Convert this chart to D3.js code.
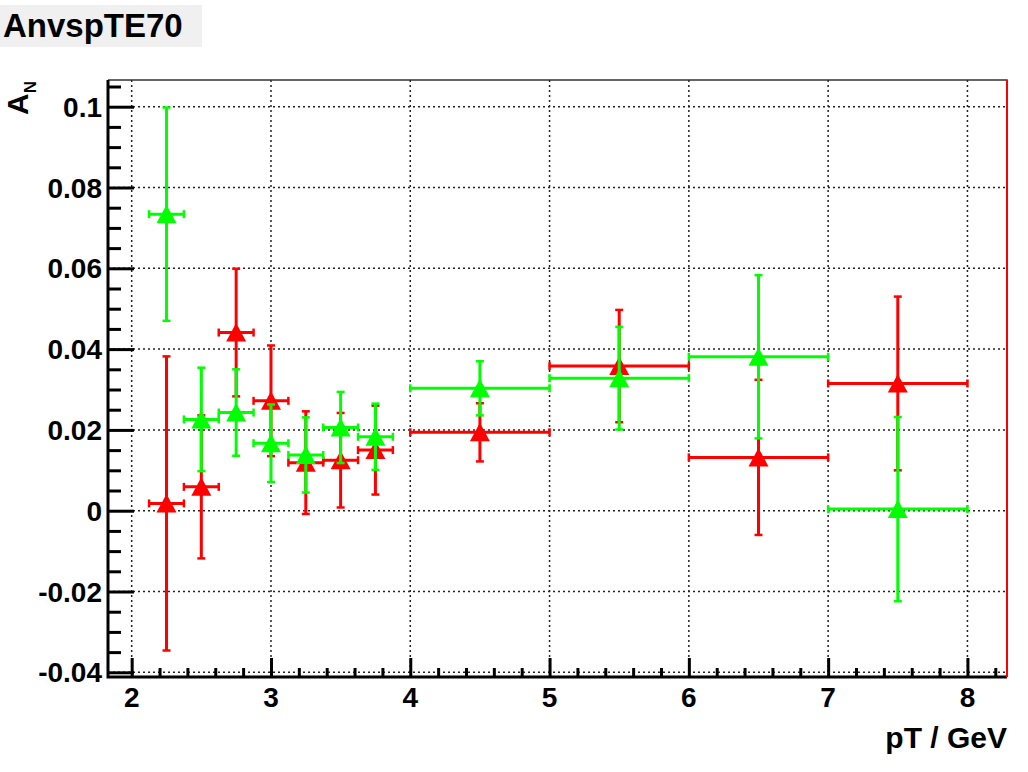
<!DOCTYPE html>
<html>
<head>
<meta charset="utf-8">
<script src="https://cdn.jsdelivr.net/npm/d3@7"></script>
<style>
	body { margin: 0; background: #fff; }
	svg { display: block; font-family: "Liberation Sans", Arial, Helvetica, sans-serif; font-weight: bold; }
</style>
</head>
<body>
<svg id="chart" width="1028" height="772"></svg>
<script>
	// bin centres and half widths (pT / GeV)
	const ptCenters = [ 2.25, 2.5, 2.75, 3.0, 3.25, 3.5, 3.75, 4.5, 5.5, 6.5, 7.5 ];
	const ptHalfWidths = [ 0.125, 0.125, 0.125, 0.125, 0.125, 0.125, 0.125, 0.5, 0.5, 0.5, 0.5 ];

	// red series
	const redValues = [ 0.0018, 0.0059, 0.0441, 0.0272, 0.0119, 0.0125, 0.0150, 0.0194, 0.0358, 0.0132, 0.0315 ];
	const redErrors = [ 0.0364, 0.0177, 0.0158, 0.0137, 0.0127, 0.0117, 0.0110, 0.0072, 0.0139, 0.0192, 0.0215 ];

	// green series
	const greenValues = [ 0.0734, 0.0226, 0.0243, 0.0167, 0.0138, 0.0206, 0.0183, 0.0303, 0.0328, 0.0381, 0.0004 ];
	const greenErrors = [ 0.0264, 0.0128, 0.0107, 0.0096, 0.0093, 0.0088, 0.0082, 0.0067, 0.0127, 0.0202, 0.0228 ];

	const xTickValues = [ 2, 3, 4, 5, 6, 7, 8 ];
	const yTickValues = [ -0.04, -0.02, 0, 0.02, 0.04, 0.06, 0.08, 0.1 ];
	const yTickLabels = [ '-0.04', '-0.02', '0', '0.02', '0.04', '0.06', '0.08', '0.1' ];

	const frame = { left: 108, right: 1007, top: 80, bottom: 677 };

	let svg = d3.select( '#chart' );

	let x = d3.scaleLinear().domain( [ 1.830, 8.284 ] ).range( [ frame.left, frame.right ] ),
		y = d3.scaleLinear().domain( [ -0.04116, 0.10661 ] ).range( [ frame.bottom, frame.top ] );

	// title box
	svg.append( 'rect' )
		.attr( 'x', 0 ).attr( 'y', 5 )
		.attr( 'width', 202 ).attr( 'height', 42 )
		.style( 'fill', '#f0f0f0' );
	svg.append( 'text' )
		.attr( 'x', 3 ).attr( 'y', 37 )
		.style( 'font-size', '33px' )
		.text( 'AnvspTE70' );

	// grid
	let grid = svg.append( 'g' ).attr( 'id', 'grid' )
		.style( 'stroke', '#222' )
		.style( 'stroke-width', 1.5 )
		.style( 'stroke-dasharray', '2,3' );

	grid.selectAll( 'line.gx' ).data( xTickValues )
		.enter().append( 'line' ).attr( 'class', 'gx' )
		.attr( 'x1', d => x( d ) ).attr( 'x2', d => x( d ) )
		.attr( 'y1', frame.top ).attr( 'y2', frame.bottom );

	grid.selectAll( 'line.gy' ).data( yTickValues )
		.enter().append( 'line' ).attr( 'class', 'gy' )
		.attr( 'x1', frame.left ).attr( 'x2', frame.right )
		.attr( 'y1', d => y( d ) ).attr( 'y2', d => y( d ) );

	// top / right frame
	svg.append( 'path' )
		.attr( 'd', 'M' + frame.left + ',' + frame.top + 'H' + frame.right + 'V' + frame.bottom )
		.style( 'fill', 'none' ).style( 'stroke', '#333' ).style( 'stroke-width', 1.5 );

	// axes
	let yMinor = d3.range( -0.04, 0.1051, 0.005 ).filter( v => Math.abs( Math.round( v / 0.02 ) * 0.02 - v ) > 1e-6 );
	let xMinor = d3.range( 2, 8.3, 0.2 ).filter( v => Math.abs( Math.round( v ) - v ) > 1e-6 );

	let axisY = d3.axisRight( y ).tickValues( yTickValues ).tickSize( 26 ).tickFormat( '' );
	let axisYMinor = d3.axisRight( y ).tickValues( yMinor ).tickSize( 13 ).tickFormat( '' );
	let axisX = d3.axisTop( x ).tickValues( xTickValues ).tickSize( 19 ).tickFormat( '' );
	let axisXMinor = d3.axisTop( x ).tickValues( xMinor ).tickSize( 9 ).tickFormat( '' );

	[ axisY, axisYMinor ].forEach( a => {
		svg.append( 'g' ).attr( 'transform', 'translate(' + frame.left + ',0)' ).call( a )
			.call( g => g.select( '.domain' ).remove() )
			.selectAll( 'line' ).style( 'stroke', '#000' ).style( 'stroke-width', 3 );
	} );
	[ axisX, axisXMinor ].forEach( a => {
		svg.append( 'g' ).attr( 'transform', 'translate(0,' + frame.bottom + ')' ).call( a )
			.call( g => g.select( '.domain' ).remove() )
			.selectAll( 'line' ).style( 'stroke', '#000' ).style( 'stroke-width', 3 );
	} );

	svg.append( 'path' )
		.attr( 'd', 'M' + frame.left + ',' + frame.top + 'V' + frame.bottom + 'H' + frame.right )
		.style( 'fill', 'none' ).style( 'stroke', '#000' ).style( 'stroke-width', 3 );

	// right red edge
	svg.append( 'line' )
		.attr( 'x1', frame.right ).attr( 'x2', frame.right )
		.attr( 'y1', frame.top ).attr( 'y2', frame.bottom )
		.style( 'stroke', '#ff0000' ).style( 'stroke-width', 2 );

	// tick labels
	svg.append( 'g' ).selectAll( 'text' ).data( yTickValues )
		.enter().append( 'text' )
		.attr( 'x', 102 )
		.attr( 'y', d => y( d ) + 10 )
		.attr( 'text-anchor', 'end' )
		.style( 'font-size', '28px' )
		.text( ( d, i ) => yTickLabels[ i ] );

	svg.append( 'g' ).selectAll( 'text' ).data( xTickValues )
		.enter().append( 'text' )
		.attr( 'x', d => x( d ) )
		.attr( 'y', 707 )
		.attr( 'text-anchor', 'middle' )
		.style( 'font-size', '28px' )
		.text( d => d );

	// axis titles
	svg.append( 'text' )
		.attr( 'x', frame.right ).attr( 'y', 748 )
		.attr( 'text-anchor', 'end' )
		.style( 'font-size', '30px' )
		.text( 'pT / GeV' );

	let yTitle = svg.append( 'text' )
		.attr( 'transform', 'translate(28,81) rotate(-90)' )
		.attr( 'text-anchor', 'end' )
		.style( 'font-size', '30px' );
	yTitle.append( 'tspan' ).text( 'A' );
	yTitle.append( 'tspan' ).attr( 'dy', 8 ).style( 'font-size', '17px' ).text( 'N' );

	// data series
	function drawSeries( values, errors, color ) {
		let g = svg.append( 'g' ).style( 'stroke', color ).style( 'fill', color );
		let pts = ptCenters.map( ( c, i ) => ( { x: c, xe: ptHalfWidths[ i ], y: values[ i ], ye: errors[ i ] } ) );

		pts.forEach( p => {
			let cx = x( p.x ), cy = y( p.y ),
				x0 = x( p.x - p.xe ), x1 = x( p.x + p.xe ),
				y0 = y( p.y - p.ye ), y1 = y( p.y + p.ye );

			g.append( 'line' ).attr( 'x1', x0 ).attr( 'x2', x1 ).attr( 'y1', cy ).attr( 'y2', cy ).style( 'stroke-width', 3 );
			g.append( 'line' ).attr( 'x1', cx ).attr( 'x2', cx ).attr( 'y1', y0 ).attr( 'y2', y1 ).style( 'stroke-width', 3 );
			// end caps
			g.append( 'line' ).attr( 'x1', x0 ).attr( 'x2', x0 ).attr( 'y1', cy - 4 ).attr( 'y2', cy + 4 ).style( 'stroke-width', 2.5 );
			g.append( 'line' ).attr( 'x1', x1 ).attr( 'x2', x1 ).attr( 'y1', cy - 4 ).attr( 'y2', cy + 4 ).style( 'stroke-width', 2.5 );
			g.append( 'line' ).attr( 'x1', cx - 4 ).attr( 'x2', cx + 4 ).attr( 'y1', y0 ).attr( 'y2', y0 ).style( 'stroke-width', 2.5 );
			g.append( 'line' ).attr( 'x1', cx - 4 ).attr( 'x2', cx + 4 ).attr( 'y1', y1 ).attr( 'y2', y1 ).style( 'stroke-width', 2.5 );
			// triangle marker
			g.append( 'path' )
				.attr( 'd', 'M' + cx + ',' + ( cy - 9.5 ) + 'L' + ( cx + 10 ) + ',' + ( cy + 9 ) + 'L' + ( cx - 10 ) + ',' + ( cy + 9 ) + 'Z' )
				.style( 'stroke', 'none' );
		} );
	}

	drawSeries( redValues, redErrors, '#ff0000' );
	drawSeries( greenValues, greenErrors, '#00ff00' );
</script>
</body>
</html>
